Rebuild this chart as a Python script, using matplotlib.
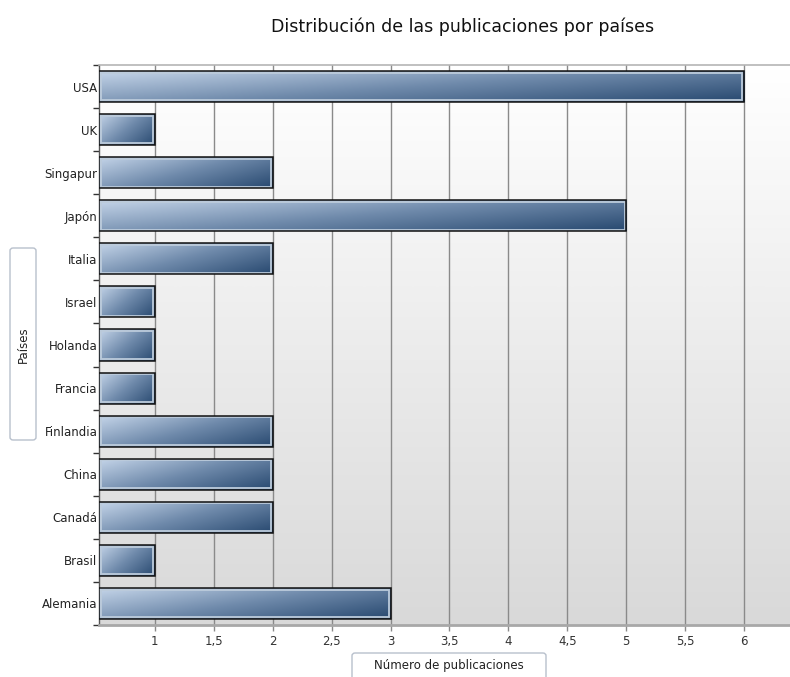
import numpy as np
import matplotlib
matplotlib.use("Agg")
from matplotlib import pyplot as plt
from matplotlib.colors import LinearSegmentedColormap
from matplotlib.patches import Rectangle, FancyBboxPatch

# data (top to bottom as shown)
paises = ["USA", "UK", "Singapur", "Japón", "Italia", "Israel", "Holanda",
          "Francia", "Finlandia", "China", "Canadá", "Brasil", "Alemania"]
publicaciones = [6, 1, 2, 5, 2, 1, 1, 1, 2, 2, 2, 1, 3]
x_ticks = [1, 1.5, 2, 2.5, 3, 3.5, 4, 4.5, 5, 5.5, 6]
x_tick_labels = ["1", "1,5", "2", "2,5", "3", "3,5", "4", "4,5", "5", "5,5", "6"]

plt.rcParams['font.family'] = ['DejaVu Sans']

fig = plt.figure(figsize=(7.9, 6.77), dpi=100)
ax = fig.add_axes([99 / 790, 1 - 625 / 677, 1 - 99 / 790, (625 - 65) / 677])

xmin, xmax = 0.526, 6.39
n = len(paises)
ax.set_xlim(xmin, xmax)
ax.set_ylim(-0.5, n - 0.5)

# background gradient
bg = np.linspace(0, 1, 100).reshape(-1, 1)
bg_cmap = LinearSegmentedColormap.from_list("bg", ["#ffffff", "#d9d9d9"])
ax.imshow(bg, cmap=bg_cmap, aspect="auto", extent=(0, 1, 0, 1),
          transform=ax.transAxes, zorder=0, interpolation="bicubic")

# grid
for xv in x_ticks:
    ax.axvline(xv, color="#8a8a8a", lw=1.0, zorder=1)

bar_cmap = LinearSegmentedColormap.from_list("bar", ["#c6d6ea", "#6f8aab", "#284970"])
xx, yy = np.meshgrid(np.linspace(0, 1, 200), np.linspace(0, 1, 40))
grad = 0.6 * xx + 0.4 * yy

h = 0.72
px_x = (xmax - xmin) / 691.0
px_y = n / 560.0
for i, (name, val) in enumerate(zip(paises, publicaciones)):
    y = n - 1 - i
    y0, y1 = y - h / 2, y + h / 2
    rect = Rectangle((xmin, y0), val - xmin, h, facecolor="none",
                     edgecolor="none", zorder=3)
    ax.add_patch(rect)
    im = ax.imshow(grad, cmap=bar_cmap, aspect="auto", extent=(xmin, val, y0, y1),
                   origin="upper", zorder=3, interpolation="bicubic")
    im.set_clip_path(rect)
    # light inner border
    ax.add_patch(Rectangle((xmin + 1.7 * px_x, y0 + 1.7 * px_y),
                           val - xmin - 3.4 * px_x, h - 3.4 * px_y,
                           facecolor="none", edgecolor="#bccbdb", lw=1.3, zorder=4))
    # dark outer border
    ax.add_patch(Rectangle((xmin, y0), val - xmin, h, facecolor="none",
                           edgecolor="#111111", lw=1.1, zorder=5))

ax.set_xticks(x_ticks)
ax.set_xticklabels(x_tick_labels, fontsize=8.5, color="#333333")
ax.set_yticks(range(n))
ax.set_yticklabels(paises[::-1], fontsize=8.5, color="#222222")
ax.set_yticks(np.arange(-0.5, n, 1), minor=True)
ax.tick_params(axis="y", which="major", length=0, pad=1)
ax.tick_params(axis="y", which="minor", length=4, width=1, color="#333333")
ax.tick_params(axis="x", length=4, width=1, color="#8a8a8a", pad=3)

ax.spines["right"].set_visible(False)
ax.spines["top"].set_color("#b5b5b5")
ax.spines["top"].set_linewidth(1.2)
ax.spines["bottom"].set_color("#a8a8a8")
ax.spines["bottom"].set_linewidth(2)
ax.spines["left"].set_color("#555555")
ax.spines["left"].set_linewidth(1)

fig.text(463 / 790, 1 - 27 / 677, "Distribución de las publicaciones por países",
         ha="center", va="center", fontsize=12.5, color="#111111")

# axis title boxes
box_y = FancyBboxPatch((10 / 790, 1 - 440 / 677), 26 / 790, 192 / 677,
                       boxstyle="round,pad=0,rounding_size=0.004",
                       transform=fig.transFigure, facecolor="white",
                       edgecolor="#b8c0cc", lw=1)
fig.patches.append(box_y)
fig.text(23 / 790, 1 - 345 / 677, "Países", rotation=90, ha="center",
         va="center", fontsize=8.5, color="#222222")

box_x = FancyBboxPatch((352 / 790, -0.01), 194 / 790, 0.01 + 24 / 677,
                       boxstyle="round,pad=0,rounding_size=0.004",
                       transform=fig.transFigure, facecolor="white",
                       edgecolor="#b8c0cc", lw=1)
fig.patches.append(box_x)
fig.text(449 / 790, 1 - 665 / 677, "Número de publicaciones", ha="center",
         va="center", fontsize=8.5, color="#222222")

fig.savefig("out.png", dpi=100)
plt.close()
